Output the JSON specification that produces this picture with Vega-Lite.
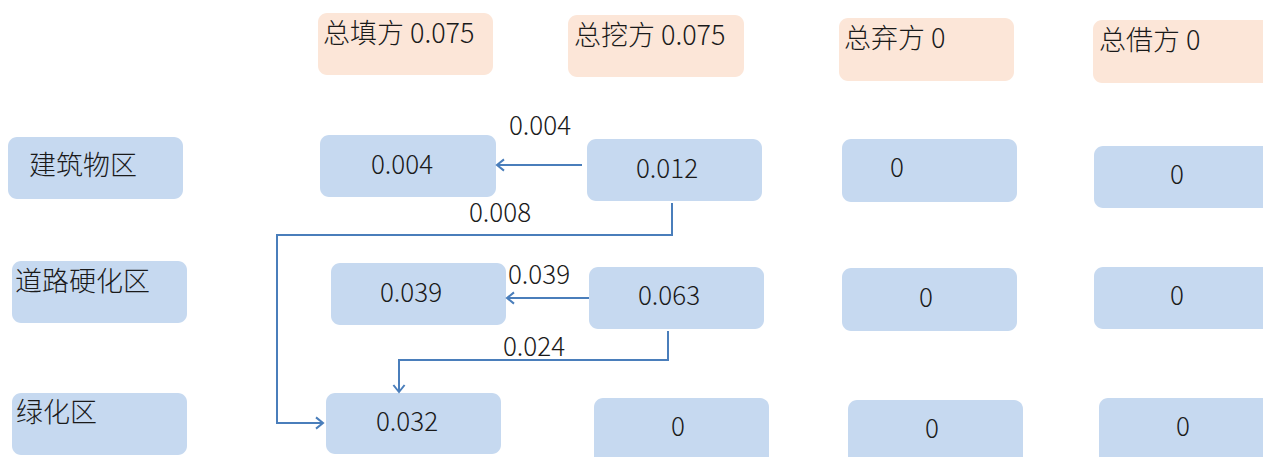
{
  "$schema": "https://vega.github.io/schema/vega-lite/v6.json",
  "width": 1263,
  "height": 457,
  "autosize": {"type": "fit", "contains": "padding"},
  "padding": 0,
  "background": "white",
  "config": {"view": {"stroke": null}},
  "datasets": {
    "boxes": [
      {"name": "总填方", "kind": "header", "x1": 318, "x2": 493, "y1": 13, "y2": 75},
      {"name": "总挖方", "kind": "header", "x1": 568, "x2": 744, "y1": 15, "y2": 77},
      {"name": "总弃方", "kind": "header", "x1": 839, "x2": 1014, "y1": 18, "y2": 81},
      {"name": "总借方", "kind": "header", "x1": 1093, "x2": 1278, "y1": 20, "y2": 83},
      {"name": "建筑物区", "kind": "cell", "x1": 8, "x2": 183, "y1": 137, "y2": 199},
      {"name": "道路硬化区", "kind": "cell", "x1": 12, "x2": 187, "y1": 261, "y2": 323},
      {"name": "绿化区", "kind": "cell", "x1": 12, "x2": 187, "y1": 393, "y2": 455},
      {"name": "建筑物区-填", "kind": "cell", "x1": 320, "x2": 496, "y1": 135, "y2": 197},
      {"name": "建筑物区-挖", "kind": "cell", "x1": 587, "x2": 762, "y1": 139, "y2": 201},
      {"name": "建筑物区-弃", "kind": "cell", "x1": 842, "x2": 1017, "y1": 139, "y2": 202},
      {"name": "建筑物区-借", "kind": "cell", "x1": 1094, "x2": 1278, "y1": 146, "y2": 208},
      {"name": "道路硬化区-填", "kind": "cell", "x1": 331, "x2": 506, "y1": 263, "y2": 325},
      {"name": "道路硬化区-挖", "kind": "cell", "x1": 589, "x2": 764, "y1": 267, "y2": 329},
      {"name": "道路硬化区-弃", "kind": "cell", "x1": 842, "x2": 1017, "y1": 268, "y2": 331},
      {"name": "道路硬化区-借", "kind": "cell", "x1": 1094, "x2": 1278, "y1": 267, "y2": 329},
      {"name": "绿化区-填", "kind": "cell", "x1": 326, "x2": 501, "y1": 393, "y2": 454},
      {"name": "绿化区-挖", "kind": "cell", "x1": 594, "x2": 769, "y1": 398, "y2": 470},
      {"name": "绿化区-弃", "kind": "cell", "x1": 848, "x2": 1023, "y1": 400, "y2": 470},
      {"name": "绿化区-借", "kind": "cell", "x1": 1099, "x2": 1278, "y1": 398, "y2": 470}
    ],
    "lefttext": [
      {"label": "总填方 0.075", "x": 323, "y": 35},
      {"label": "总挖方 0.075", "x": 574, "y": 37},
      {"label": "总弃方 0", "x": 844, "y": 40},
      {"label": "总借方 0", "x": 1099, "y": 42},
      {"label": "建筑物区", "x": 29, "y": 167},
      {"label": "道路硬化区", "x": 15, "y": 283},
      {"label": "绿化区", "x": 16, "y": 414}
    ],
    "centertext": [
      {"label": "0.004", "x": 402, "y": 166},
      {"label": "0.012", "x": 667, "y": 170},
      {"label": "0", "x": 897, "y": 169},
      {"label": "0", "x": 1177, "y": 176},
      {"label": "0.039", "x": 411, "y": 294},
      {"label": "0.063", "x": 669, "y": 297},
      {"label": "0", "x": 926, "y": 299},
      {"label": "0", "x": 1177, "y": 297},
      {"label": "0.032", "x": 407, "y": 423},
      {"label": "0", "x": 678, "y": 428},
      {"label": "0", "x": 932, "y": 430},
      {"label": "0", "x": 1183, "y": 428},
      {"label": "0.004", "x": 540, "y": 127},
      {"label": "0.008", "x": 500, "y": 214},
      {"label": "0.039", "x": 539, "y": 276},
      {"label": "0.024", "x": 534, "y": 348}
    ],
    "paths": [
      {"path": "a", "ord": 1, "x": 582, "y": 165},
      {"path": "a", "ord": 2, "x": 497, "y": 165},
      {"path": "b", "ord": 1, "x": 672, "y": 203},
      {"path": "b", "ord": 2, "x": 672, "y": 235},
      {"path": "b", "ord": 3, "x": 277, "y": 235},
      {"path": "b", "ord": 4, "x": 277, "y": 423},
      {"path": "b", "ord": 5, "x": 323, "y": 423},
      {"path": "c", "ord": 1, "x": 589, "y": 298},
      {"path": "c", "ord": 2, "x": 507, "y": 298},
      {"path": "d", "ord": 1, "x": 668, "y": 331},
      {"path": "d", "ord": 2, "x": 668, "y": 360},
      {"path": "d", "ord": 3, "x": 399, "y": 360},
      {"path": "d", "ord": 4, "x": 399, "y": 392}
    ],
    "heads": [
      {"path": "a", "dir": "left", "x": 497, "y": 165},
      {"path": "b", "dir": "right", "x": 323, "y": 423},
      {"path": "c", "dir": "left", "x": 507, "y": 298},
      {"path": "d", "dir": "down", "x": 399, "y": 392}
    ]
  },
  "layer": [
    {
      "data": {"name": "boxes"},
      "mark": {"type": "rect", "cornerRadius": 9, "clip": true},
      "encoding": {
        "x": {"field": "x1", "type": "quantitative", "scale": {"domain": [0, 1263], "nice": false, "zero": false}, "axis": null},
        "x2": {"field": "x2"},
        "y": {"field": "y1", "type": "quantitative", "scale": {"domain": [0, 457], "nice": false, "zero": false, "reverse": true}, "axis": null},
        "y2": {"field": "y2"},
        "fill": {"field": "kind", "type": "nominal", "scale": {"domain": ["header", "cell"], "range": ["#FCE6D8", "#C6D9F0"]}, "legend": null}
      }
    },
    {
      "data": {"name": "paths"},
      "mark": {"type": "line", "stroke": "#4A7EBB", "strokeWidth": 2, "interpolate": "linear"},
      "encoding": {
        "x": {"field": "x", "type": "quantitative"},
        "y": {"field": "y", "type": "quantitative"},
        "detail": {"field": "path", "type": "nominal"},
        "order": {"field": "ord", "type": "quantitative"}
      }
    },
    {
      "data": {"name": "heads"},
      "mark": {"type": "point", "filled": false, "stroke": "#4A7EBB", "strokeWidth": 2, "size": 196, "opacity": 1},
      "encoding": {
        "x": {"field": "x", "type": "quantitative"},
        "y": {"field": "y", "type": "quantitative"},
        "shape": {"field": "dir", "type": "nominal", "scale": {"domain": ["left", "right", "down"], "range": ["M 1 -0.8 L 0 0 L 1 0.8", "M -1 -0.8 L 0 0 L -1 0.8", "M -0.8 -1 L 0 0 L 0.8 -1"]}, "legend": null}
      }
    },
    {
      "data": {"name": "lefttext"},
      "mark": {"type": "text", "align": "left", "baseline": "middle", "font": "Noto Sans CJK SC", "fontSize": 27, "fontWeight": 300, "color": "#1a1a1a"},
      "encoding": {
        "x": {"field": "x", "type": "quantitative"},
        "y": {"field": "y", "type": "quantitative"},
        "text": {"field": "label"}
      }
    },
    {
      "data": {"name": "centertext"},
      "mark": {"type": "text", "align": "center", "baseline": "middle", "font": "Noto Sans CJK SC", "fontSize": 26, "fontWeight": 300, "color": "#1a1a1a"},
      "encoding": {
        "x": {"field": "x", "type": "quantitative"},
        "y": {"field": "y", "type": "quantitative"},
        "text": {"field": "label"}
      }
    }
  ]
}
